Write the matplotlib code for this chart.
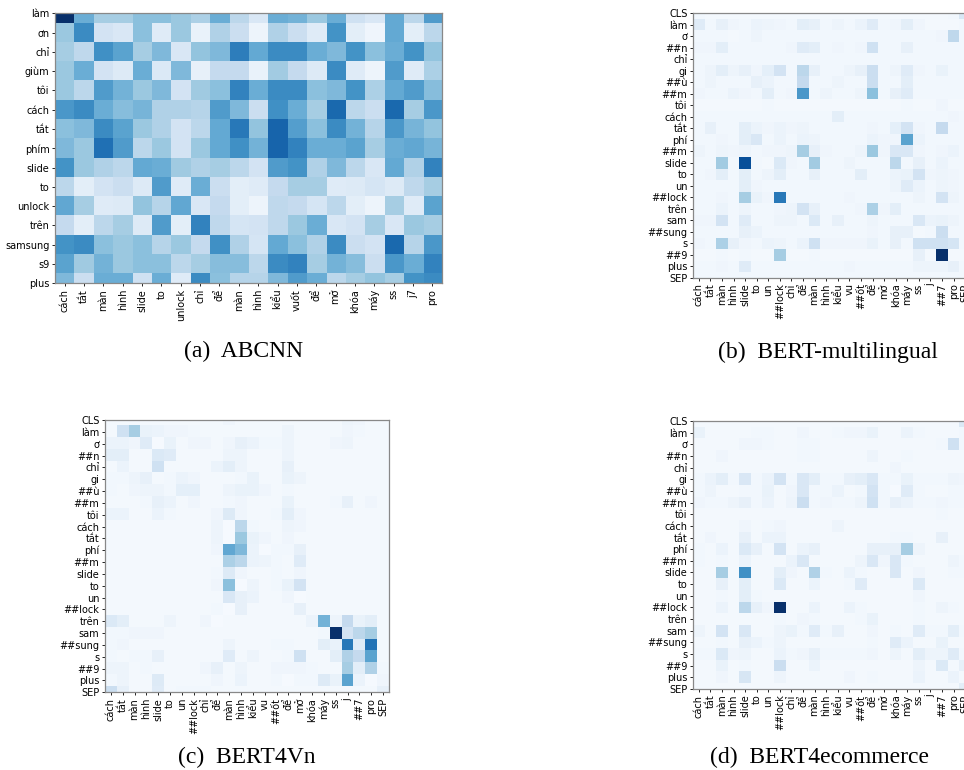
import numpy as np
import matplotlib
matplotlib.use("Agg")
import matplotlib.pyplot as plt

# ---- (a) ABCNN ----
abcnn_rows = ["làm", "ơn", "chỉ", "giùm", "tôi", "cách", "tắt", "phím", "slide",
              "to", "unlock", "trên", "samsung", "s9", "plus"]
abcnn_cols = ["cách", "tắt", "màn", "hình", "slide", "to", "unlock", "chỉ", "để",
              "màn", "hình", "kiểu", "vuốt", "để", "mở", "khóa", "máy", "ss", "j7", "pro"]
abcnn = [
    [100, 50, 35, 35, 42, 42, 38, 33, 50, 28, 15, 50, 48, 38, 50, 20, 15, 52, 28, 58],
    [38, 65, 18, 15, 42, 12, 38, 7, 32, 22, 5, 32, 22, 12, 62, 10, 4, 52, 10, 28],
    [35, 27, 63, 55, 35, 45, 15, 40, 45, 70, 52, 65, 65, 50, 45, 62, 42, 50, 62, 40],
    [38, 50, 18, 13, 50, 14, 45, 8, 25, 25, 7, 36, 25, 13, 65, 12, 5, 58, 12, 33],
    [38, 28, 58, 48, 38, 45, 18, 37, 42, 68, 50, 65, 65, 42, 45, 62, 33, 52, 58, 43],
    [60, 65, 50, 43, 47, 32, 32, 30, 58, 45, 22, 63, 50, 35, 78, 28, 22, 78, 35, 60],
    [42, 45, 65, 55, 38, 32, 18, 28, 52, 72, 40, 80, 57, 42, 65, 48, 30, 60, 47, 40],
    [45, 38, 75, 58, 28, 38, 18, 38, 52, 63, 48, 80, 68, 50, 50, 55, 35, 50, 53, 47],
    [62, 38, 32, 28, 52, 50, 37, 32, 35, 28, 18, 58, 62, 32, 45, 28, 15, 52, 32, 68],
    [28, 10, 18, 22, 13, 58, 12, 50, 22, 10, 12, 25, 35, 35, 12, 13, 17, 13, 27, 35],
    [53, 35, 12, 13, 40, 30, 53, 15, 25, 10, 5, 27, 25, 17, 28, 10, 5, 35, 12, 55],
    [25, 10, 28, 35, 13, 58, 10, 68, 27, 17, 18, 27, 38, 50, 15, 18, 35, 15, 38, 35],
    [62, 65, 42, 38, 42, 30, 38, 25, 63, 32, 17, 52, 42, 32, 65, 22, 18, 78, 30, 60],
    [55, 37, 48, 38, 42, 42, 28, 35, 43, 43, 28, 65, 68, 35, 48, 43, 22, 60, 50, 68],
    [45, 22, 50, 50, 20, 50, 12, 65, 42, 30, 30, 45, 58, 50, 28, 35, 40, 35, 62, 65],
]

# ---- BERT token labels (b, c, d) ----
bert_rows = ["CLS", "làm", "ơ", "##n", "chỉ", "gi", "##ù", "##m", "tôi", "cách", "tắt",
             "phí", "##m", "slide", "to", "un", "##lock", "trên", "sam", "##sung", "s",
             "##9", "plus", "SEP"]
bert_cols = ["cách", "tắt", "màn", "hình", "slide", "to", "un", "##lock", "chỉ", "để",
             "màn", "hình", "kiểu", "vu", "##ốt", "để", "mở", "khóa", "máy", "ss", "j",
             "##7", "pro", "SEP"]

# ---- (b) BERT-multilingual ----
bert_multi = [
    [3, 2, 2, 2, 2, 2, 2, 2, 2, 2, 2, 2, 2, 2, 2, 2, 2, 2, 2, 2, 2, 2, 3, 15],
    [12, 3, 8, 4, 3, 6, 5, 4, 3, 10, 8, 3, 5, 3, 6, 12, 3, 4, 10, 4, 2, 2, 2, 3],
    [3, 3, 3, 2, 3, 5, 3, 3, 3, 3, 3, 3, 3, 3, 3, 3, 3, 3, 3, 3, 3, 4, 27, 3],
    [4, 4, 10, 3, 3, 3, 3, 3, 4, 12, 10, 3, 4, 3, 4, 20, 3, 3, 8, 3, 3, 3, 3, 3],
    [3, 3, 3, 3, 3, 3, 3, 3, 3, 3, 3, 3, 3, 3, 3, 3, 3, 3, 3, 3, 3, 3, 3, 3],
    [3, 5, 10, 5, 8, 4, 9, 18, 3, 28, 8, 3, 3, 5, 8, 22, 3, 5, 12, 4, 3, 7, 3, 3],
    [3, 5, 3, 3, 3, 8, 6, 3, 3, 25, 3, 3, 5, 3, 3, 22, 3, 3, 10, 3, 3, 3, 3, 3],
    [4, 3, 3, 6, 4, 3, 10, 3, 4, 60, 3, 5, 3, 3, 5, 42, 3, 8, 12, 3, 3, 3, 3, 3],
    [2, 2, 2, 2, 2, 2, 3, 2, 2, 2, 2, 2, 2, 2, 2, 2, 2, 2, 3, 2, 2, 4, 2, 2],
    [3, 3, 3, 3, 3, 3, 3, 3, 3, 3, 3, 3, 10, 3, 3, 3, 3, 3, 3, 3, 3, 3, 4, 3],
    [3, 8, 3, 3, 10, 6, 4, 6, 4, 5, 3, 3, 3, 3, 3, 4, 3, 9, 18, 4, 3, 25, 3, 3],
    [3, 3, 4, 3, 10, 15, 3, 6, 3, 6, 5, 3, 3, 3, 3, 6, 4, 4, 55, 6, 3, 3, 3, 3],
    [5, 3, 5, 4, 5, 3, 4, 4, 5, 35, 8, 4, 3, 3, 5, 38, 4, 15, 15, 4, 3, 4, 6, 3],
    [3, 3, 36, 3, 88, 3, 2, 14, 4, 3, 36, 3, 3, 5, 3, 3, 3, 28, 3, 8, 3, 6, 3, 3],
    [3, 4, 10, 3, 10, 3, 5, 10, 3, 3, 8, 3, 3, 3, 10, 3, 3, 6, 7, 18, 4, 5, 4, 3],
    [3, 3, 3, 3, 10, 4, 3, 3, 3, 3, 3, 3, 3, 3, 3, 3, 3, 5, 12, 6, 3, 5, 4, 3],
    [3, 3, 4, 3, 35, 7, 4, 72, 3, 3, 3, 3, 3, 4, 3, 3, 3, 3, 3, 5, 3, 18, 5, 3],
    [3, 3, 6, 3, 5, 3, 3, 4, 5, 18, 8, 3, 3, 3, 4, 33, 4, 10, 3, 3, 3, 3, 3, 3],
    [4, 4, 18, 3, 12, 3, 3, 5, 5, 3, 14, 3, 8, 3, 3, 5, 3, 3, 3, 15, 6, 7, 5, 3],
    [3, 3, 3, 3, 8, 6, 3, 3, 3, 3, 3, 3, 3, 3, 3, 4, 3, 8, 8, 2, 3, 22, 3, 3],
    [4, 3, 33, 8, 4, 3, 6, 5, 3, 6, 20, 4, 4, 4, 4, 7, 3, 8, 3, 20, 20, 20, 17, 3],
    [2, 2, 3, 2, 3, 2, 2, 35, 2, 2, 3, 2, 2, 2, 2, 2, 2, 2, 2, 8, 2, 100, 2, 2],
    [3, 3, 4, 3, 12, 3, 3, 3, 3, 3, 3, 3, 3, 4, 3, 3, 3, 3, 3, 5, 5, 5, 8, 3],
    [3, 3, 3, 3, 3, 3, 3, 3, 3, 3, 3, 3, 3, 3, 3, 3, 3, 3, 3, 3, 3, 3, 3, 3],
]

# ---- (c) BERT4Vn ----
bert4vn = [
    [2, 2, 2, 2, 2, 2, 2, 2, 2, 2, 4, 2, 2, 2, 2, 2, 2, 2, 2, 2, 5, 4, 2, 2],
    [2, 20, 35, 7, 6, 4, 4, 3, 2, 2, 2, 2, 2, 2, 2, 5, 2, 2, 2, 2, 4, 3, 2, 2],
    [6, 6, 4, 12, 1, 7, 2, 4, 4, 2, 4, 8, 6, 3, 3, 5, 2, 2, 2, 4, 5, 2, 2, 2],
    [10, 10, 2, 2, 14, 12, 2, 2, 2, 2, 5, 5, 2, 2, 2, 5, 2, 2, 2, 2, 2, 2, 2, 2],
    [2, 6, 2, 2, 20, 2, 2, 2, 2, 6, 10, 5, 2, 2, 2, 8, 2, 2, 2, 2, 2, 2, 2, 2],
    [3, 3, 5, 8, 2, 3, 6, 4, 2, 2, 2, 3, 7, 2, 2, 7, 5, 2, 2, 2, 2, 2, 2, 2],
    [3, 2, 4, 5, 5, 3, 9, 9, 2, 2, 5, 7, 7, 4, 2, 3, 2, 2, 2, 2, 2, 2, 2, 2],
    [2, 2, 2, 3, 8, 6, 2, 4, 2, 2, 3, 4, 2, 2, 2, 7, 2, 2, 2, 3, 8, 2, 4, 2],
    [6, 6, 2, 2, 6, 3, 2, 2, 2, 4, 13, 4, 2, 2, 3, 10, 4, 2, 2, 2, 2, 2, 2, 2],
    [2, 2, 2, 2, 2, 2, 2, 2, 2, 5, 1, 28, 3, 2, 2, 5, 4, 2, 2, 2, 2, 2, 2, 2],
    [2, 2, 2, 2, 2, 2, 2, 2, 2, 5, 1, 38, 7, 4, 2, 4, 2, 2, 2, 2, 2, 2, 2, 2],
    [2, 2, 2, 2, 2, 2, 2, 2, 2, 4, 53, 45, 6, 1, 3, 3, 8, 2, 2, 2, 2, 2, 2, 2],
    [2, 2, 2, 2, 2, 2, 2, 2, 2, 2, 33, 28, 6, 5, 3, 2, 12, 2, 2, 2, 2, 2, 2, 2],
    [2, 2, 2, 2, 2, 2, 2, 2, 2, 3, 13, 4, 2, 2, 3, 2, 4, 2, 2, 2, 2, 2, 2, 2],
    [2, 2, 2, 2, 2, 2, 2, 2, 2, 4, 42, 1, 5, 2, 3, 7, 18, 2, 2, 2, 2, 2, 2, 2],
    [2, 2, 2, 2, 2, 2, 2, 2, 2, 2, 15, 8, 6, 2, 2, 4, 1, 2, 2, 2, 2, 2, 2, 2],
    [2, 2, 2, 2, 2, 2, 2, 2, 2, 3, 1, 8, 2, 2, 2, 2, 8, 2, 2, 2, 2, 2, 2, 2],
    [14, 10, 2, 2, 2, 5, 2, 2, 4, 1, 2, 2, 2, 2, 2, 2, 2, 6, 48, 5, 25, 7, 10, 2],
    [3, 3, 4, 4, 4, 2, 2, 2, 2, 2, 2, 2, 2, 2, 2, 2, 2, 2, 3, 100, 18, 28, 35, 2],
    [3, 4, 2, 2, 2, 2, 2, 2, 2, 2, 5, 2, 2, 2, 3, 3, 2, 2, 10, 7, 72, 12, 74, 2],
    [3, 2, 3, 3, 8, 2, 2, 2, 2, 2, 12, 2, 5, 2, 2, 3, 20, 2, 2, 10, 32, 25, 55, 2],
    [5, 5, 2, 3, 2, 2, 2, 2, 4, 8, 2, 5, 2, 2, 4, 4, 4, 3, 2, 2, 35, 10, 32, 3],
    [3, 5, 2, 2, 13, 2, 2, 2, 2, 4, 2, 6, 2, 2, 3, 1, 3, 3, 13, 7, 55, 6, 1, 4],
    [22, 8, 2, 2, 12, 2, 3, 3, 3, 2, 2, 2, 2, 2, 2, 2, 2, 2, 2, 2, 2, 2, 2, 8],
]

# ---- (d) BERT4ecommerce ----
bert4ecom = [
    [2, 2, 2, 2, 2, 2, 2, 2, 2, 2, 2, 2, 2, 2, 2, 2, 2, 2, 2, 2, 2, 2, 2, 14],
    [7, 2, 2, 2, 2, 3, 3, 2, 2, 4, 2, 2, 3, 4, 4, 7, 2, 2, 6, 3, 2, 2, 2, 3],
    [2, 2, 2, 2, 4, 4, 3, 2, 2, 3, 3, 2, 2, 2, 2, 2, 2, 2, 2, 2, 2, 3, 20, 3],
    [2, 2, 4, 2, 2, 2, 2, 2, 2, 3, 3, 2, 2, 2, 2, 5, 2, 2, 3, 2, 2, 2, 2, 2],
    [2, 2, 2, 2, 2, 2, 2, 2, 2, 2, 2, 2, 2, 2, 2, 2, 2, 4, 2, 2, 2, 2, 2, 2],
    [3, 6, 10, 3, 15, 3, 6, 18, 3, 15, 10, 3, 3, 8, 10, 15, 3, 3, 7, 3, 3, 3, 5, 4],
    [3, 5, 2, 2, 3, 3, 7, 2, 4, 15, 3, 3, 6, 2, 3, 18, 3, 1, 12, 3, 2, 2, 3, 3],
    [4, 3, 3, 5, 8, 3, 6, 2, 5, 22, 3, 4, 3, 3, 5, 20, 3, 8, 6, 3, 3, 4, 3, 3],
    [2, 2, 2, 2, 2, 2, 2, 2, 2, 2, 2, 2, 2, 2, 2, 2, 2, 2, 2, 2, 2, 3, 2, 2],
    [2, 2, 2, 2, 4, 2, 3, 4, 2, 2, 2, 2, 5, 2, 2, 2, 2, 2, 2, 2, 2, 2, 2, 2],
    [2, 4, 2, 2, 8, 2, 6, 6, 2, 2, 2, 2, 2, 2, 2, 2, 2, 3, 3, 2, 2, 8, 2, 2],
    [3, 2, 6, 2, 14, 8, 2, 18, 2, 6, 8, 2, 2, 2, 2, 8, 8, 8, 35, 5, 2, 2, 2, 2],
    [3, 2, 3, 2, 6, 2, 2, 2, 6, 15, 2, 2, 2, 2, 5, 15, 4, 15, 3, 2, 2, 2, 5, 3],
    [2, 2, 35, 2, 63, 2, 2, 10, 4, 2, 32, 3, 2, 6, 3, 2, 2, 15, 2, 4, 2, 2, 3, 3],
    [2, 2, 8, 2, 10, 2, 2, 14, 2, 2, 6, 2, 2, 3, 12, 2, 2, 2, 2, 14, 2, 2, 2, 2],
    [2, 2, 3, 2, 10, 3, 2, 2, 2, 2, 2, 2, 2, 2, 2, 2, 2, 2, 2, 4, 2, 2, 2, 2],
    [2, 2, 6, 2, 28, 8, 4, 100, 2, 2, 6, 2, 2, 6, 3, 2, 2, 2, 2, 3, 2, 5, 3, 2],
    [2, 2, 2, 2, 2, 2, 2, 3, 2, 4, 3, 2, 2, 2, 3, 7, 2, 2, 2, 3, 2, 2, 2, 2],
    [5, 2, 18, 2, 15, 2, 2, 5, 7, 3, 12, 3, 8, 2, 2, 4, 2, 3, 2, 12, 3, 3, 10, 3],
    [2, 2, 3, 2, 8, 6, 3, 5, 2, 2, 2, 2, 2, 2, 2, 3, 2, 12, 6, 2, 2, 7, 2, 2],
    [3, 3, 14, 4, 5, 2, 2, 6, 3, 4, 8, 3, 3, 3, 3, 4, 2, 5, 2, 10, 5, 5, 12, 3],
    [2, 2, 7, 2, 3, 2, 2, 22, 2, 2, 6, 2, 2, 2, 2, 2, 2, 2, 2, 5, 2, 14, 2, 8],
    [2, 2, 4, 2, 16, 2, 2, 5, 2, 2, 2, 2, 2, 4, 2, 3, 2, 2, 2, 6, 2, 2, 6, 2],
    [2, 2, 2, 2, 2, 2, 2, 2, 2, 2, 2, 2, 2, 2, 2, 2, 2, 2, 2, 2, 2, 2, 2, 10],
]

W, H = 964, 770
fig = plt.figure(figsize=(W / 100, H / 100), dpi=100)


def px_axes(left, top, right, bottom):
    return fig.add_axes([left / W, 1 - bottom / H, (right - left) / W, (bottom - top) / H])


def heat(ax, data, rows, cols, fs=7):
    m = np.array(data, dtype=float)
    ax.imshow(m, cmap="Blues", vmin=0, vmax=100, aspect="auto", interpolation="nearest")
    ax.set_xticks(range(len(cols)))
    ax.set_xticklabels(cols, rotation=90, fontsize=fs)
    ax.set_yticks(range(len(rows)))
    ax.set_yticklabels(rows, fontsize=fs)
    ax.set_xlim(-0.5, len(cols) - 0.5)
    # top and bottom rows only half shown, like in the original
    ax.set_ylim(len(rows) - 1, 0)
    ax.tick_params(length=2.5, width=0.6, pad=1.5)
    for s in ax.spines.values():
        s.set_color("#888888")
        s.set_linewidth(0.9)


ax_a = px_axes(55, 13.3, 442, 283.3)
heat(ax_a, abcnn, abcnn_rows, abcnn_cols)

ax_b = px_axes(693, 13.3, 971, 277.7)
heat(ax_b, bert_multi, bert_rows, bert_cols)

ax_c = px_axes(105, 420, 389, 692.3)
heat(ax_c, bert4vn, bert_rows, bert_cols)

ax_d = px_axes(693, 421, 971, 689)
heat(ax_d, bert4ecom, bert_rows, bert_cols)

cap = dict(ha="center", va="center", fontsize=17, family="Liberation Serif")
fig.text(244 / W, 1 - 351 / H, "(a)  ABCNN", **cap)
fig.text(828 / W, 1 - 352 / H, "(b)  BERT-multilingual", **cap)
fig.text(247 / W, 1 - 757 / H, "(c)  BERT4Vn", **cap)
fig.text(820 / W, 1 - 757 / H, "(d)  BERT4ecommerce", **cap)

fig.savefig("out.png", dpi=100)
